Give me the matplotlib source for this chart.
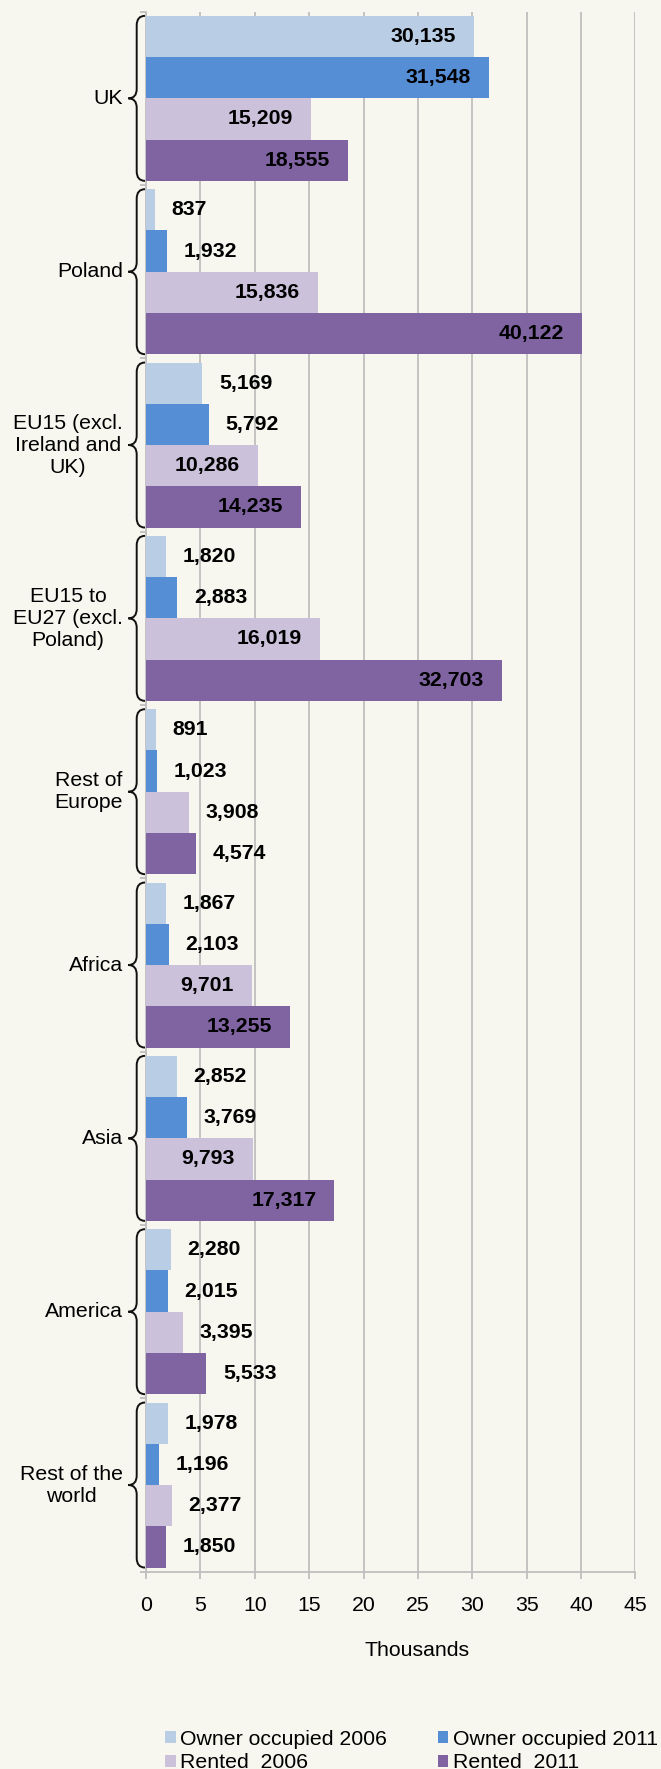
import numpy as np
import matplotlib.pyplot as plt
from matplotlib.path import Path
from matplotlib.patches import PathPatch
import matplotlib.transforms as mtransforms

plt.rcParams['font.family'] = ['Liberation Sans', 'DejaVu Sans']

categories = ["UK", "Poland", "EU15 (excl.\nIreland and\nUK)", "EU15 to\nEU27 (excl.\nPoland)",
              "Rest of\nEurope", "Africa", "Asia", "America", "Rest of the\nworld"]
owner_2006 = [30.135, 0.837, 5.169, 1.820, 0.891, 1.867, 2.852, 2.280, 1.978]
owner_2011 = [31.548, 1.932, 5.792, 2.883, 1.023, 2.103, 3.769, 2.015, 1.196]
rented_2006 = [15.209, 15.836, 10.286, 16.019, 3.908, 9.701, 9.793, 3.395, 2.377]
rented_2011 = [18.555, 40.122, 14.235, 32.703, 4.574, 13.255, 17.317, 5.533, 1.850]
series_names = ["Owner occupied 2006", "Owner occupied 2011", "Rented  2006", "Rented  2011"]
colors = ["#B9CDE5", "#558ED5", "#CCC1DA", "#8064A2"]
xticks = [0, 5, 10, 15, 20, 25, 30, 35, 40, 45]

bg = "#F7F7F0"
grid_c = "#BFBFBF"
fs = 15.3

fig = plt.figure(figsize=(6.61, 17.69), dpi=100)
fig.patch.set_facecolor(bg)
ax = fig.add_axes([0.22088, 0.11153, 0.74054, 0.88186])
ax.set_facecolor(bg)

h = 0.238
n = len(categories)
ypos = np.arange(n) + 0.5
bars = []
for k, (vals, col, name) in enumerate(zip([owner_2006, owner_2011, rented_2006, rented_2011], colors, series_names)):
    yy = ypos + (k - 1.5) * h
    b = ax.barh(yy, vals, height=h, color=col, label=name, zorder=3)
    bars.append(b)
    for y, v in zip(yy, vals):
        txt = f"{round(v * 1000):,}"
        if v >= 9:
            ax.annotate(txt, (v, y), xytext=(-13, 0), textcoords='offset points',
                        ha='right', va='center', fontsize=fs, fontweight='bold', zorder=4)
        else:
            ax.annotate(txt, (v, y), xytext=(12, 0), textcoords='offset points',
                        ha='left', va='center', fontsize=fs, fontweight='bold', zorder=4)

ax.set_xlim(0, 45)
ax.set_ylim(n, 0)
ax.set_xticks(xticks)
ax.set_xticklabels([str(t) for t in xticks], fontsize=fs)
ax.set_yticks(np.arange(n + 1))
ax.set_yticklabels([])
ax.grid(axis='x', color=grid_c, lw=1.3, zorder=0)
ax.tick_params(axis='x', length=4.7, width=1.3, color=grid_c, pad=13)
ax.tick_params(axis='y', length=4.3, width=1.3, color=grid_c)
for s in ['top', 'right']:
    ax.spines[s].set_visible(False)
for s in ['left', 'bottom']:
    ax.spines[s].set_color(grid_c)
    ax.spines[s].set_linewidth(1.3)
    ax.spines[s].set_zorder(2)

ax.set_xlabel("Thousands", fontsize=fs)
ax.xaxis.set_label_coords(0.554, -0.0505)
ax.xaxis.label.set_va('center')

# braces and group labels
trans = mtransforms.blended_transform_factory(ax.transAxes, ax.transData)
xe, xl, xt = -0.002, -0.019, -0.036
r = 0.055
for i, name in enumerate(categories):
    y0 = ypos[i] - 2 * h
    y1 = ypos[i] + 2 * h
    ym = ypos[i]
    verts = [(xe, y0), (xl, y0), (xl, y0 + r),
             (xl, ym - r), (xl, ym), (xt, ym),
             (xl, ym), (xl, ym + r),
             (xl, y1 - r), (xl, y1), (xe, y1)]
    codes = [Path.MOVETO, Path.CURVE3, Path.CURVE3,
             Path.LINETO, Path.CURVE3, Path.CURVE3,
             Path.CURVE3, Path.CURVE3,
             Path.LINETO, Path.CURVE3, Path.CURVE3]
    ax.add_patch(PathPatch(Path(verts, codes), transform=trans, fill=False,
                           lw=1.4, edgecolor="#111111", clip_on=False))
    ax.text(-0.047, ym, name, transform=trans, ha='right', va='center',
            multialignment='center', fontsize=fs)

handles = [bars[0], bars[2], bars[1], bars[3]]
labels = [series_names[0], series_names[2], series_names[1], series_names[3]]
fig.legend(handles, labels, loc='upper left', bbox_to_anchor=(0.2496, 0.0222),
           ncol=2, frameon=False, fontsize=fs, borderpad=0, borderaxespad=0,
           handlelength=0.5, handleheight=0.5, handletextpad=0.2,
           columnspacing=2.4, labelspacing=0.22)

fig.savefig("out.png", dpi=100, facecolor=bg)
